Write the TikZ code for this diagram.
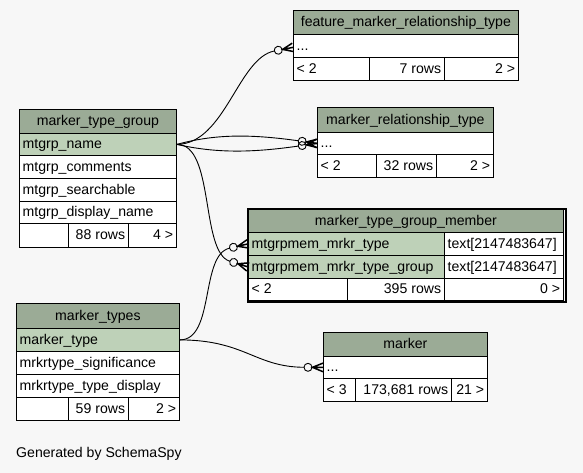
\documentclass[tikz,border=0pt]{standalone}
\usepackage{fontspec}
\setmainfont{Liberation Sans}
\usetikzlibrary{arrows.meta}
\definecolor{bgc}{HTML}{F7F7F7}
\definecolor{hdrc}{HTML}{9BAB96}
\definecolor{keyc}{HTML}{BED1B8}
\pgfdeclarearrow{
  name=CrowDot,
  parameters={},
  setup code={
    \pgfarrowssettipend{0pt}
    \pgfarrowssetbackend{-19pt}
    \pgfarrowssetlineend{-19pt}
    \pgfarrowssetvisualbackend{-19pt}
  },
  drawing code={
    \pgfsetdash{}{0pt}
    \pgfsetlinewidth{0.9pt}
    \pgfpathcircle{\pgfqpoint{-15pt}{0pt}}{4pt}
    \pgfusepathqstroke
    \pgfsetlinewidth{1.5pt}
    \pgfsetmiterjoin
    \pgfpathmoveto{\pgfqpoint{0pt}{4.3pt}}
    \pgfpathlineto{\pgfqpoint{-10.5pt}{0pt}}
    \pgfpathlineto{\pgfqpoint{0pt}{-4.3pt}}
    \pgfpathmoveto{\pgfqpoint{-11pt}{0pt}}
    \pgfpathlineto{\pgfqpoint{0pt}{0pt}}
    \pgfusepathqstroke
  }
}
\def\shwest{3.5pt}\def\sheast{-3.5pt}\def\shcenter{0pt}
\newcommand\tcell[8]{%
  \node[#1, minimum width=#5pt, minimum height=#6pt] (#2) at (#3,#4) {};
  \node[txt, anchor=#7] (#2t) at ([xshift=\csname sh#7\endcsname]#2.#7) {#8};
}
\begin{document}
\begin{tikzpicture}[x=1pt,y=-1pt,
  cell/.style={draw=black, line width=0.8pt, anchor=north west, inner sep=0pt},
  hdr/.style={cell, fill=hdrc},
  key/.style={cell, fill=keyc},
  plain/.style={cell, fill=white},
  txt/.style={inner sep=0pt, text height=11pt, text depth=2pt, font=\fontsize{14.1}{16}\selectfont},
  rel/.style={line width=0.9pt, -{CrowDot}},
]
\useasboundingbox[fill=bgc] (0,0) rectangle (583,473);

% feature_marker_relationship_type
\tcell{hdr}{fmrt}{293}{10}{225}{24}{center}{feature\_marker\_relationship\_type}
\tcell{plain}{fmrt-r1}{293}{34}{225}{23}{west}{...}
\tcell{plain}{fmrt-f1}{293}{57}{76}{23}{west}{< 2}
\tcell{plain}{fmrt-f2}{369}{57}{75}{23}{east}{7 rows}
\tcell{plain}{fmrt-f3}{444}{57}{74}{23}{east}{2 >}

% marker_relationship_type
\tcell{hdr}{mrt}{317}{107}{176}{25}{center}{marker\_relationship\_type}
\tcell{plain}{mrt-r1}{317}{132}{176}{22}{west}{...}
\tcell{plain}{mrt-f1}{317}{154}{59}{23}{west}{< 2}
\tcell{plain}{mrt-f2}{376}{154}{60}{23}{east}{32 rows}
\tcell{plain}{mrt-f3}{436}{154}{57}{23}{east}{2 >}

% marker_type_group
\tcell{hdr}{mtg}{19}{109}{157}{24}{center}{marker\_type\_group}
\tcell{key}{mtg-r1}{19}{133}{157}{22}{west}{mtgrp\_name}
\tcell{plain}{mtg-r2}{19}{155}{157}{23}{west}{mtgrp\_comments}
\tcell{plain}{mtg-r3}{19}{178}{157}{23}{west}{mtgrp\_searchable}
\tcell{plain}{mtg-r4}{19}{201}{157}{22}{west}{mtgrp\_display\_name}
\tcell{plain}{mtg-f1}{19}{223}{49}{24}{west}{}
\tcell{plain}{mtg-f2}{68}{223}{60}{24}{east}{88 rows}
\tcell{plain}{mtg-f3}{128}{223}{48}{24}{east}{4 >}

% marker_type_group_member
\node[draw=black, line width=2.2pt, anchor=north west, inner sep=0pt,
  minimum width=318pt, minimum height=93pt] (mtgm-frame) at (246.5,208) {};
\tcell{hdr}{mtgm}{248}{209}{315}{23}{center}{marker\_type\_group\_member}
\tcell{key}{mtgm-r1}{248}{232}{196}{23}{west}{mtgrpmem\_mrkr\_type}
\tcell{plain}{mtgm-r1b}{444}{232}{119}{23}{west}{text[2147483647]}
\tcell{key}{mtgm-r2}{248}{255}{196}{23}{west}{mtgrpmem\_mrkr\_type\_group}
\tcell{plain}{mtgm-r2b}{444}{255}{119}{23}{west}{text[2147483647]}
\tcell{plain}{mtgm-f1}{248}{278}{99}{22}{west}{< 2}
\tcell{plain}{mtgm-f2}{347}{278}{97}{22}{east}{395 rows}
\tcell{plain}{mtgm-f3}{444}{278}{119}{22}{east}{0 >}

% marker_types
\tcell{hdr}{mt}{16}{303}{163}{25}{center}{marker\_types}
\tcell{key}{mt-r1}{16}{328}{163}{23}{west}{marker\_type}
\tcell{plain}{mt-r2}{16}{351}{163}{23}{west}{mrkrtype\_significance}
\tcell{plain}{mt-r3}{16}{374}{163}{23}{west}{mrkrtype\_type\_display}
\tcell{plain}{mt-f1}{16}{397}{52}{23}{west}{}
\tcell{plain}{mt-f2}{68}{397}{60}{23}{east}{59 rows}
\tcell{plain}{mt-f3}{128}{397}{51}{23}{east}{2 >}

% marker
\tcell{hdr}{mk}{323}{332}{164}{24}{center}{marker}
\tcell{plain}{mk-r1}{323}{356}{164}{22}{west}{...}
\tcell{plain}{mk-f1}{323}{378}{32}{23}{west}{< 3}
\tcell{plain}{mk-f2}{355}{378}{96}{23}{east}{173,681 rows}
\tcell{plain}{mk-f3}{451}{378}{36}{23}{east}{21 >}

% relationships
\draw[rel] (mtg-r1.east) .. controls (225,144) and (238,58) .. ([yshift=-1.5pt]fmrt-r1.west);
\draw[rel] (mtg-r1.east) .. controls (215,134) and (250,134) .. (mrt-r1.west);
\draw[rel] (mtg-r1.east) .. controls (215,153) and (250,153) .. (mrt-r1.west);
\draw[rel] (mtg-r1.east) .. controls (215,144) and (200,252) .. (mtgm-r2.west);
\draw[rel] (mt-r1.east) .. controls (215,340) and (200,255) .. (mtgm-r1.west);
\draw[rel] (mt-r1.east) .. controls (245,340) and (255,367) .. (mk-r1.west);

\node[txt, anchor=west] (gen) at (16,453) {Generated by SchemaSpy};
\end{tikzpicture}
\end{document}
